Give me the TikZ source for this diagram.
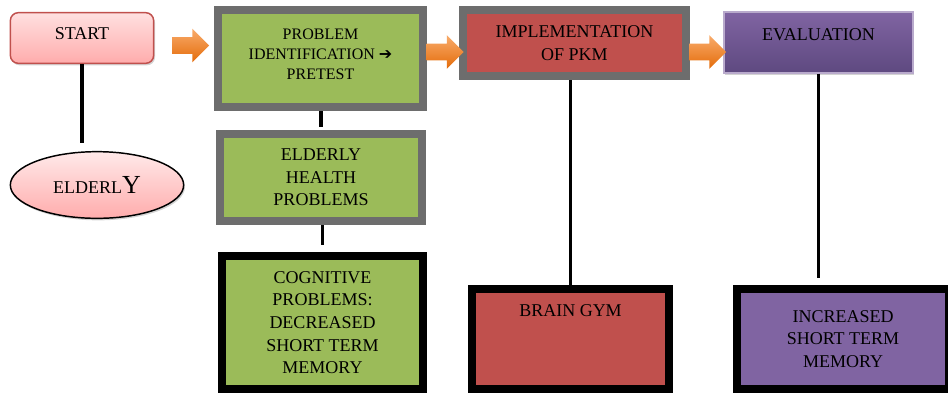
\documentclass[tikz,border=0pt]{standalone}
\usepackage{fontspec}
\setmainfont{Liberation Serif}
\newfontfamily\arrowglyph{DejaVu Sans}
\definecolor{mypink}{RGB}{255,224,224}
\definecolor{mypinkdark}{RGB}{255,172,172}
\definecolor{myred}{RGB}{192,80,77}
\definecolor{mygreen}{RGB}{155,187,89}
\definecolor{mygray}{RGB}{109,109,109}
\definecolor{mypurple}{RGB}{128,100,162}
\definecolor{mypurpledark}{RGB}{94,73,128}
\definecolor{myorange}{RGB}{247,150,70}
\definecolor{myorangedark}{RGB}{228,108,10}
\usetikzlibrary{positioning,shapes,shadows,calc}

\begin{document}
\begin{tikzpicture}[x=0.75pt,y=-0.75pt,
    every node/.style={align=center,inner sep=0pt,font=\fontsize{13.5}{17}\selectfont},
    startnode/.style={draw=myred,line width=1.1pt,rounded corners=6pt,top color=mypink,bottom color=mypinkdark,
        drop shadow={opacity=0.35,shadow xshift=1pt,shadow yshift=-1.5pt}},
    gbox/.style={draw=mygray,line width=6pt},
    bbox/.style={draw=black,line width=6pt},
    fatarrow/.style={single arrow,single arrow head extend=6.4pt,inner xsep=0pt,inner ysep=6pt,
        minimum height=27.75pt,minimum width=24.75pt,
        top color=myorange!80!white,bottom color=myorangedark,draw=none},
    link/.style={line width=2.3pt}
    ]
    \useasboundingbox (0,0) rectangle (948,394);

    % the first column
    \node[startnode,minimum width=107.5pt,minimum height=38pt,text depth=6pt] (start) at (82,38) {START};
    \node[ellipse,draw,line width=1.1pt,top color=mypink!70!white,bottom color=mypinkdark,
        minimum width=130pt,minimum height=50pt,
        drop shadow={opacity=0.35,shadow xshift=1pt,shadow yshift=-1.5pt}] (elderly) at (97,185)
        {ELDERL{\fontsize{19.5}{19.5}\selectfont Y}};

    % the second column
    \node[gbox,fill=mygreen,minimum width=153.75pt,minimum height=72.75pt,
        font=\fontsize{12}{15}\selectfont,text depth=6pt] (pid) at (320.5,58.5)
        {PROBLEM\\IDENTIFICATION \mbox{\arrowglyph\fontsize{12}{12}\selectfont ➔}\\PRETEST};
    \node[gbox,fill=mygreen,minimum width=151.5pt,minimum height=65.25pt] (eh) at (321,177.5)
        {ELDERLY\\HEALTH\\PROBLEMS};
    \node[bbox,fill=mygreen,minimum width=150.75pt,minimum height=99.75pt] (cog) at (322.5,322.5)
        {COGNITIVE\\PROBLEMS:\\DECREASED\\SHORT TERM\\MEMORY};

    % the third column
    \node[gbox,fill=myred,minimum width=167.25pt,minimum height=49.5pt] (impl) at (574.5,43)
        {IMPLEMENTATION\\OF PKM};
    \node[bbox,fill=myred,minimum width=147.75pt,minimum height=75pt,text depth=42pt] (brain) at (570.5,339)
        {BRAIN GYM};

    % the fourth column
    \node[draw=mypurple!55!white,line width=0.8pt,top color=mypurple,bottom color=mypurpledark,
        minimum width=141.75pt,minimum height=45.75pt,text depth=12pt,
        drop shadow={opacity=0.35,shadow xshift=1pt,shadow yshift=-1.5pt}] (eval) at (818.5,42.5) {EVALUATION};
    \node[bbox,fill=mypurple,minimum width=159pt,minimum height=75pt] (incr) at (843,339)
        {INCREASED\\SHORT TERM\\MEMORY};

    % the orange arrows
    \node[fatarrow] (a1) at (186.5,45.5) {};
    \node[fatarrow] (a2) at (441,52) {};
    \node[fatarrow] (a3) at (703.5,52) {};

    % the links
    \draw[link,shorten >=6pt] (start.south) -- (start.south |- elderly.north);
    \draw[link,shorten >=2pt] (eh.north |- pid.south) -- (eh.north);
    \draw[link,shorten >=5pt] (cog.north |- eh.south) -- (cog.north);
    \draw[link] (brain.north |- impl.south) -- (brain.north);
    \draw[link,shorten >=5pt] (eval.south) -- (eval.south |- incr.north);
\end{tikzpicture}
\end{document}
